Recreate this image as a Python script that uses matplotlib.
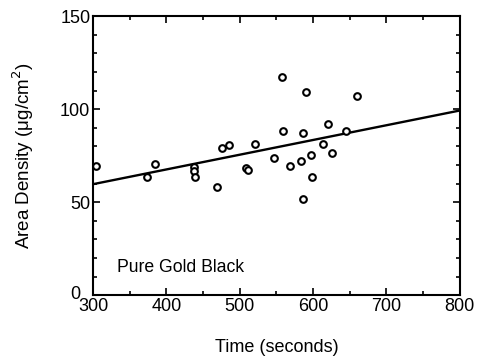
"""Area density of pure gold black versus deposition time."""

import matplotlib
matplotlib.use('Agg')
import matplotlib.pyplot as plt
from matplotlib.ticker import MultipleLocator, FuncFormatter

plt.rcParams['font.family'] = ['Liberation Sans', 'DejaVu Sans']

# measured samples
time_s = [304, 374, 384, 437, 438, 439, 469, 476, 485, 508, 511, 521,
          547, 557, 559, 569, 584, 586, 586, 590, 597, 599, 614, 620,
          626, 645, 660]
density = [69.2, 63.4, 70.4, 69.1, 67.0, 63.4, 58.4, 79.2, 80.5, 68.5,
           67.2, 81.4, 73.5, 117.2, 88.4, 69.4, 72.4, 87.3, 51.6, 109.3,
           75.4, 63.6, 81.5, 92.3, 76.5, 88.5, 107.3]

# linear fit endpoints
fit_time = [300, 800]
fit_density = [59.7, 99.3]


def main():
    fig = plt.figure(figsize=(4.8, 3.6), dpi=100)
    ax = fig.add_axes([0.194, 0.180, 0.764, 0.775])

    ax.plot(fit_time, fit_density, color='black', linewidth=1.7)
    ax.plot(time_s, density, linestyle='none', marker='o', markersize=4.8,
            markerfacecolor='white', markeredgecolor='black',
            markeredgewidth=1.5, clip_on=False)

    ax.set_xlim(300, 800)
    ax.set_ylim(0, 150)
    ax.xaxis.set_major_locator(MultipleLocator(100))
    ax.xaxis.set_minor_locator(MultipleLocator(50))
    ax.yaxis.set_major_locator(MultipleLocator(50))
    ax.yaxis.set_minor_locator(MultipleLocator(10))
    # "0" is drawn by hand, a bit up and left of the corner like the original
    ax.yaxis.set_major_formatter(FuncFormatter(lambda v, _: '' if v == 0 else f'{v:.0f}'))
    ax.tick_params(which='both', direction='in', top=True, right=True,
                   width=1.2, labelsize=13, colors='black')
    ax.tick_params(which='major', length=5, pad=2)
    ax.tick_params(which='minor', length=3)
    for spine in ax.spines.values():
        spine.set_linewidth(1.5)

    ax.text(-0.034, -0.012, '0', transform=ax.transAxes, fontsize=13,
            ha='right', va='baseline')
    ax.text(332, 12.5, 'Pure Gold Black', fontsize=12.7)
    ax.set_xlabel('Time (seconds)', fontsize=13, labelpad=17)
    ax.set_ylabel('Area Density (\u03bcg/cm$^2$)', fontsize=13.5, labelpad=17)

    fig.savefig('out.png', dpi=100)


if __name__ == '__main__':
    main()
